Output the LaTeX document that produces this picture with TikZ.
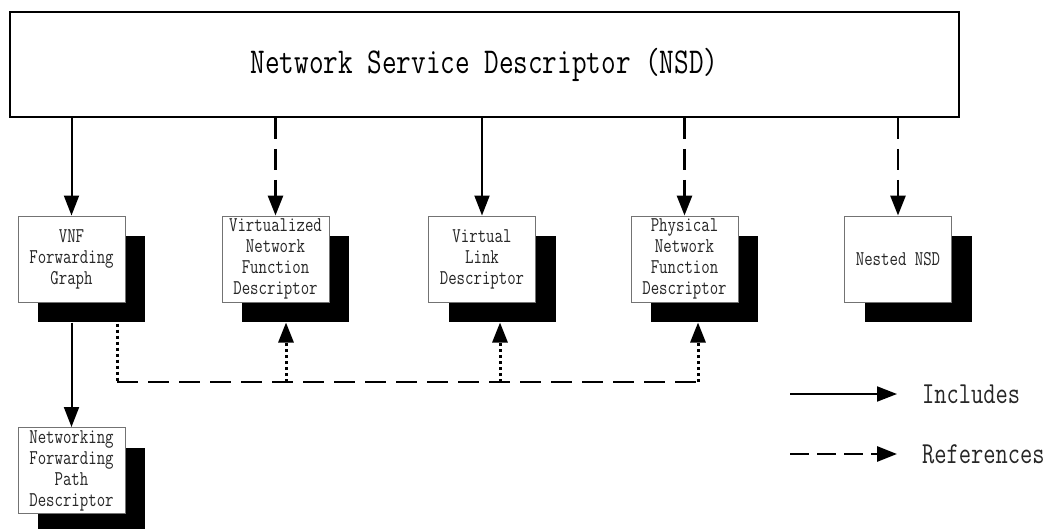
\documentclass[tikz,border=0pt]{standalone}
\usepackage{fontspec}
\newfontfamily\cnd{Latin Modern Mono}[FakeStretch=0.78]
\usetikzlibrary{arrows.meta,shadows,calc}
\begin{document}
\begin{tikzpicture}[x=1pt,y=-1pt,
  box/.style={draw=black!55, line width=1pt, fill=white, minimum width=107pt, minimum height=86pt,
    inner sep=0pt, align=center, text=black!85, font=\cnd\fontsize{21}{21}\selectfont,
    drop shadow={shadow xshift=20pt, shadow yshift=-20pt, fill=black, opacity=1}},
  tip/.style={-{Triangle[length=20pt,width=15pt]}},
  inc/.style={line width=2pt, tip},
  ref/.style={line width=2.8pt, dash pattern=on 21pt off 10pt, tip},
  dotl/.style={line width=3pt, dash pattern=on 3pt off 3pt},
  refl/.style={line width=2.8pt, dash pattern=on 21pt off 10pt},
  lbl/.style={anchor=west, inner sep=0pt, text=black!85, font=\cnd\fontsize{30.5}{32}\selectfont}]
\useasboundingbox (0,0) rectangle (1053,528);
\clip (0,0) rectangle (1053,528);
\node[draw, line width=1.8pt, minimum width=949pt, minimum height=105pt, inner sep=0pt,
  font=\cnd\fontsize{36.4}{38}\selectfont] (nsd) at (484.5,64.5) {Network Service Descriptor (NSD)};
\node[box] (vnf) at (71.5,259) {VNF\\Forwarding\\Graph};
\node[box] (vnfd) at (275.5,259) {Virtualized\\Network\\Function\\Descriptor};
\node[box] (vld) at (482,259) {Virtual\\Link\\Descriptor};
\node[box] (pnfd) at (684.5,259) {Physical\\Network\\Function\\Descriptor};
\node[box] (nnsd) at (898,259) {Nested NSD};
\node[box] (nfpd) at (71.5,470.5) {Networking\\Forwarding\\Path\\Descriptor};
% includes / references from NSD
\draw[inc] (nsd.south -| vnf.north) -- (vnf.north);
\draw[ref] (nsd.south -| vnfd.north) -- (vnfd.north);
\draw[inc] (nsd.south -| vld.north) -- (vld.north);
\draw[ref] (nsd.south -| pnfd.north) -- (pnfd.north);
\draw[ref] (nsd.south -| nnsd.north) -- (nnsd.north);
% VNF FG includes NFP
\draw[inc] ([yshift=-20pt]vnf.south) -- (nfpd.north);
% references from VNF FG
\coordinate (s0) at ([xshift=45.5pt,yshift=-21pt]vnf.south);
\coordinate (t1) at ([xshift=10.5pt,yshift=-20pt]vnfd.south);
\coordinate (t2) at ([xshift=18pt,yshift=-20pt]vld.south);
\coordinate (t3) at ([xshift=13.5pt,yshift=-20pt]pnfd.south);
\coordinate (c0) at (117,382);
\coordinate (c3) at (t3 |- c0);
\draw[dotl] (s0) -- (c0);
\draw[refl] (c0) -- (c3);
\draw[dotl, tip] (t1 |- c0) -- (t1);
\draw[dotl, tip] (t2 |- c0) -- (t2);
\draw[dotl, tip] (c3) -- (t3);
% legend
\coordinate (l1a) at (790,394);
\coordinate (l1b) at (897,394);
\coordinate (l2a) at (790,454);
\coordinate (l2b) at (897,454);
\draw[inc] (l1a) -- (l1b);
\draw[line width=2.8pt, dash pattern=on 19pt off 8pt, tip] (l2a) -- (l2b);
\node[lbl] (li) at (922,394) {Includes};
\node[lbl] (lr) at (922,454) {References};
\end{tikzpicture}
\end{document}
